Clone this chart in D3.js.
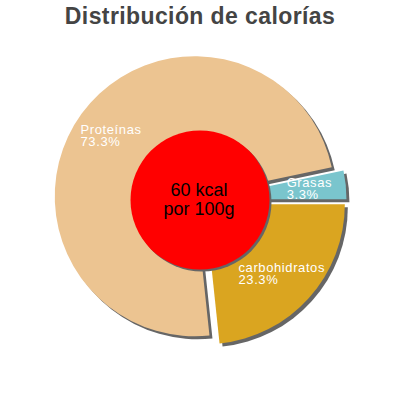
<!DOCTYPE html>
<html>
<head>
<meta charset="utf-8">
<script src="https://cdn.jsdelivr.net/npm/d3@7"></script>
<style>
  html, body { margin: 0; padding: 0; background: #fff; }
  svg { display: block; font-family: "Liberation Sans", Arial, sans-serif; }
</style>
</head>
<body>
<svg id="chart" width="400" height="400"></svg>
<script>
// slices, clockwise from 3 o'clock
const categories = ['carbohidratos', 'Proteínas', 'Grasas'];
const shares = [23.3, 73.3, 3.3];
const colors = ['#daa520', '#ecc491', '#7ac5cd'];
const title = 'Distribución de calorías';
const centerLines = ['60 kcal', 'por 100g'];

const width = 400;
const height = 400;
const cx = 200, cy = 200;
const radius = 140;
const explode = 6.5;
const holeRadius = 69.5;
const labelRadius = 110;
const shadow = { dx: 3, dy: 3, color: '#666' };

const svg = d3.select('#chart');

svg.append('text')
    .attr('x', width / 2)
    .attr('y', 24)
    .attr('text-anchor', 'middle')
    .attr('fill', '#444')
    .style('font-size', '23px')
    .style('font-weight', 'bold')
    .style('letter-spacing', '0.4px')
    .text(title);

const data = categories.map((c, i) => ({ key: c, value: shares[i], color: colors[i] }));

const pie = d3.pie()
    .sort(null)
    .value((d) => d.value)
    .startAngle(Math.PI / 2)
    .endAngle(Math.PI / 2 + 2 * Math.PI);

const arcs = pie(data);
const arc = d3.arc().innerRadius(0).outerRadius(radius);
const labelArc = d3.arc().innerRadius(labelRadius).outerRadius(labelRadius);

const offset = (d) => {
    const mid = (d.startAngle + d.endAngle) / 2;
    return [Math.sin(mid) * explode, -Math.cos(mid) * explode];
};

const g = svg.append('g').attr('transform', `translate(${cx},${cy})`);

// shadows first, then the slices
g.selectAll('path.shadow')
    .data(arcs)
    .join('path')
    .classed('shadow', true)
    .attr('d', arc)
    .attr('fill', shadow.color)
    .attr('transform', (d) => {
        const [x, y] = offset(d);
        return `translate(${x + shadow.dx},${y + shadow.dy})`;
    });

g.selectAll('path.slice')
    .data(arcs)
    .join('path')
    .classed('slice', true)
    .attr('d', arc)
    .attr('fill', (d) => d.data.color)
    .attr('transform', (d) => {
        const [x, y] = offset(d);
        return `translate(${x},${y})`;
    });

// centre disc
g.append('circle')
    .attr('cx', 2)
    .attr('cy', 2)
    .attr('r', holeRadius)
    .attr('fill', shadow.color);

g.append('circle')
    .attr('r', holeRadius)
    .attr('fill', '#ff0000');

g.selectAll('text.center')
    .data(centerLines)
    .join('text')
    .classed('center', true)
    .attr('text-anchor', 'middle')
    .attr('x', -1)
    .attr('y', (d, i) => -4 + i * 19)
    .attr('fill', '#000')
    .style('font-size', '18px')
    .text((d) => d);

// slice labels: two lines, left aligned, block centred on the label arc
const fmt = d3.format('.1f');
const labels = g.selectAll('g.label')
    .data(arcs)
    .join('g')
    .classed('label', true);

labels.each(function (d) {
    const [lx, ly] = labelArc.centroid(d);
    const lines = [d.data.key, fmt(d.data.value) + '%'];
    const t = d3.select(this).selectAll('text')
        .data(lines)
        .join('text')
        .attr('fill', '#fff')
        .style('font-size', '13px')
        .style('letter-spacing', '0.6px')
        .attr('y', (s, i) => ly - 1.2 + i * 11.5)
        .text((s) => s);
    const w = d3.max(t.nodes(), (n) => n.getComputedTextLength());
    t.attr('x', lx - w / 2);
});
</script>
</body>
</html>
